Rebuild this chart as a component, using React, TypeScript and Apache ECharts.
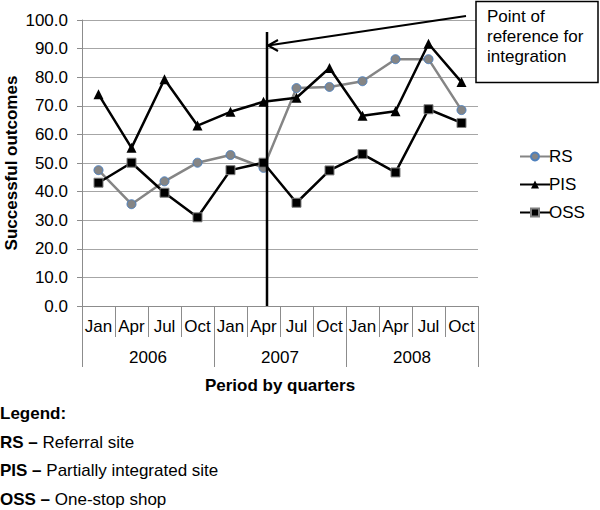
import React, { useEffect, useRef } from "react";
import * as echarts from "echarts";

const months = ["Jan", "Apr", "Jul", "Oct", "Jan", "Apr", "Jul", "Oct", "Jan", "Apr", "Jul", "Oct"];
const years = ["2006", "2007", "2008"];
const rs = [47.5, 35.6, 43.6, 50.1, 52.8, 48.3, 76.2, 76.6, 78.6, 86.3, 86.3, 68.5];
const pis = [74.0, 55.3, 79.3, 63.1, 67.9, 71.4, 72.8, 83.2, 66.5, 68.1, 91.7, 78.3];
const oss = [43.1, 50.1, 39.6, 31.0, 47.5, 50.1, 36.1, 47.4, 53.1, 46.7, 68.8, 64.0];
const legendNotes = [
  ["RS –", "Referral site"],
  ["PIS –", "Partially integrated site"],
  ["OSS –", "One-stop shop"],
];

const FONT = "'Liberation Sans', Arial, Helvetica, sans-serif";
const FS = 17;

export default function App() {
  const ref = useRef<HTMLDivElement>(null);
  useEffect(() => {
    const chart = echarts.init(ref.current!, null, { renderer: "svg" });
    const textBase = { fontFamily: FONT, fontSize: FS, color: "#000" };
    chart.setOption({
      animation: false,
      backgroundColor: "#fff",
      textStyle: { fontFamily: FONT },
      grid: {
        left: 82,
        right: 122,
        top: 20,
        bottom: 204,
        containLabel: false,
        outerBoundsMode: "none",
      },
      legend: {
        orient: "vertical",
        left: 514,
        top: 143,
        itemWidth: 30,
        itemHeight: 10,
        itemGap: 11,
        textStyle: { ...textBase, padding: [0, 0, 0, -6] },
        data: ["RS", "PIS", "OSS"],
      },
      xAxis: [
        {
          type: "category",
          data: months,
          position: "bottom",
          boundaryGap: true,
          axisLine: { lineStyle: { color: "#8c8c8c", width: 1 } },
          axisTick: { show: true, interval: 0, length: 31, lineStyle: { color: "#8c8c8c" } },
          axisLabel: { interval: 0, margin: 12, ...textBase },
        },
        {
          type: "category",
          data: years,
          position: "bottom",
          boundaryGap: true,
          axisLine: { show: true, lineStyle: { color: "#8c8c8c", width: 1 } },
          axisTick: { show: true, interval: 0, length: 61, lineStyle: { color: "#8c8c8c" } },
          axisLabel: { interval: 0, margin: 43, ...textBase },
          name: "Period by quarters",
          nameLocation: "middle",
          nameGap: 71,
          nameMoveOverlap: false,
          nameTextStyle: { ...textBase, fontWeight: "bold" },
        },
      ],
      yAxis: {
        type: "value",
        min: 0,
        max: 100,
        interval: 10,
        axisLine: { show: true, lineStyle: { color: "#8c8c8c" } },
        axisTick: { show: true, length: 5, lineStyle: { color: "#8c8c8c" } },
        splitLine: { lineStyle: { color: "#a6a6a6", width: 1 } },
        axisLabel: { margin: 14, formatter: (v: number) => v.toFixed(1), ...textBase },
        name: "Successful outcomes",
        nameLocation: "middle",
        nameGap: 62,
        nameMoveOverlap: false,
        nameTextStyle: { ...textBase, fontWeight: "bold" },
      },
      series: [
        {
          name: "RS",
          type: "line",
          data: rs,
          symbol: "circle",
          symbolSize: 9,
          lineStyle: { color: "#858585", width: 2.5 },
          itemStyle: { color: "#858585", borderColor: "#4f81bd", borderWidth: 1 },
          z: 3,
        },
        {
          name: "PIS",
          type: "line",
          data: pis,
          symbol: "triangle",
          symbolSize: 10,
          lineStyle: { color: "#000", width: 2.5 },
          itemStyle: { color: "#000", borderColor: "#000", borderWidth: 0 },
          z: 4,
        },
        {
          name: "OSS",
          type: "line",
          data: oss,
          symbol: "rect",
          symbolSize: 9,
          lineStyle: { color: "#000", width: 2.5 },
          itemStyle: { color: "#000", borderColor: "#7f7f7f", borderWidth: 1 },
          z: 5,
        },
      ],
      graphic: [
        {
          type: "line",
          shape: { x1: 267, y1: 32, x2: 267, y2: 306 },
          style: { stroke: "#000", lineWidth: 2.5 },
          z: 10,
        },
        {
          type: "line",
          shape: { x1: 466, y1: 16, x2: 268, y2: 45.5 },
          style: { stroke: "#000", lineWidth: 2 },
          z: 10,
        },
        {
          type: "polyline",
          shape: { points: [[278, 40], [268, 45.5], [278, 51]] },
          style: { stroke: "#000", lineWidth: 2, fill: null },
          z: 10,
        },
        {
          type: "rect",
          shape: { x: 476, y: 1.5, width: 122, height: 81 },
          style: { stroke: "#000", lineWidth: 1.5, fill: "#fff" },
          z: 10,
        },
        {
          type: "text",
          x: 487,
          y: 6,
          style: {
            text: "Point of\nreference for\nintegration",
            font: `${FS}px ${FONT}`,
            fill: "#000",
            lineHeight: 20,
            verticalAlign: "top",
          },
          z: 11,
        },
        {
          type: "text",
          x: 0,
          y: 413,
          style: {
            text: "Legend:",
            font: `bold ${FS}px ${FONT}`,
            fill: "#000",
            verticalAlign: "middle",
          },
        },
        ...legendNotes.map((n, i) => ({
          type: "text",
          x: 0,
          y: 442 + i * 28.7,
          style: {
            text: `{b|${n[0]}} ${n[1]}`,
            fontFamily: FONT,
            fontSize: FS,
            fill: "#000",
            verticalAlign: "middle",
            rich: { b: { fontFamily: FONT, fontSize: FS, fontWeight: "bold", fill: "#000" } },
          },
        })),
      ],
    });
    return () => chart.dispose();
  }, []);
  return (
    <div
      ref={ref}
      style={{ position: "fixed", left: 0, top: 0, width: 600, height: 510, background: "#fff" }}
    />
  );
}
